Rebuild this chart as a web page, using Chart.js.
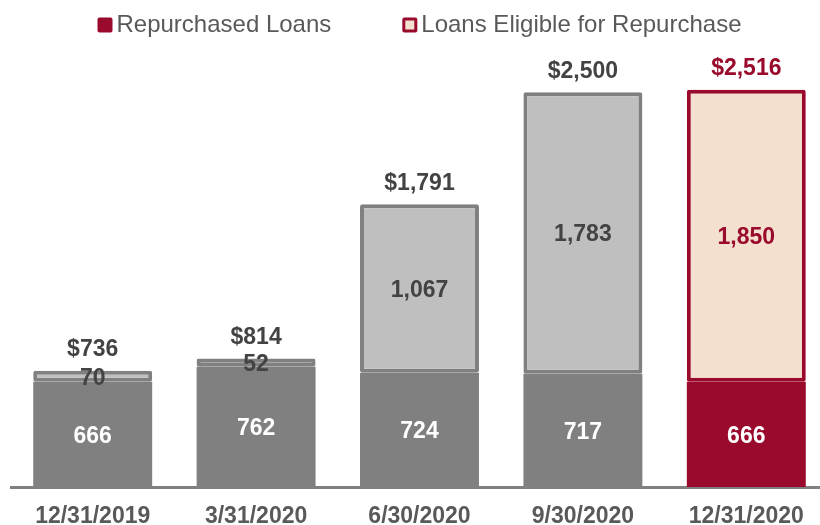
<!DOCTYPE html>
<html>
<head>
<meta charset="utf-8">
<script src="https://cdn.jsdelivr.net/npm/chart.js@4.4.1/dist/chart.umd.min.js"></script>
<style>
  html, body { margin: 0; padding: 0; overflow: hidden; background: #fff; }
  canvas { display: block; }
</style>
</head>
<body>
<canvas id="c" width="828" height="525"></canvas>
<script>
// Quarter-end dates and loan balances ($ millions)
const categories = ['12/31/2019', '3/31/2020', '6/30/2020', '9/30/2020', '12/31/2020'];
const repurchased = [666, 762, 724, 717, 666];
const eligible = [70, 52, 1067, 1783, 1850];
const seriesNames = ['Repurchased Loans', 'Loans Eligible for Repurchase'];

const GRAY = '#808080';
const LIGHT = '#BFBFBF';
const RED = '#9A0A2C';
const BEIGE = '#F3E0CF';
const TEXT = '#434343';
const TICK = '#595959';
const FONT = "'Liberation Sans', Arial, sans-serif";

const last = categories.length - 1;
const pick = (i, hi, lo) => (i === last ? hi : lo);

// Legend drawn across the top, centred over the plot
const topLegend = {
  id: 'topLegend',
  afterDraw(chart) {
    const ctx = chart.ctx;
    const area = chart.chartArea;
    const box = 15, gapText = 4, gapItem = 71;
    ctx.save();
    ctx.font = `24px ${FONT}`;
    const widths = seriesNames.map(n => ctx.measureText(n).width);
    const total = widths.reduce((s, w) => s + box + gapText + w, 0) + gapItem * (seriesNames.length - 1);
    let x = (area.left + area.right) / 2 - total / 2;
    const y = 25;
    seriesNames.forEach((name, i) => {
      ctx.beginPath();
      ctx.roundRect(x, y - box / 2, box, box, 2);
      ctx.fillStyle = RED;
      ctx.fill();
      if (i === 1) {
        ctx.fillStyle = BEIGE;
        ctx.fillRect(x + 3, y - box / 2 + 3, box - 6, box - 6);
      }
      ctx.fillStyle = TICK;
      ctx.textAlign = 'left';
      ctx.textBaseline = 'middle';
      ctx.fillText(name, x + box + gapText, y);
      x += box + gapText + widths[i] + gapItem;
    });
    ctx.restore();
  }
};

// Segment values inside the bars and totals above each stack
const valueLabels = {
  id: 'valueLabels',
  afterDatasetsDraw(chart) {
    const ctx = chart.ctx;
    const nudge = 2;
    ctx.save();
    ctx.font = `bold 23px ${FONT}`;
    ctx.textAlign = 'center';
    ctx.textBaseline = 'middle';
    chart.data.datasets.forEach((ds, d) => {
      chart.getDatasetMeta(d).data.forEach((bar, i) => {
        const { x, y, base } = bar.getProps(['x', 'y', 'base'], true);
        ctx.fillStyle = d === 0 ? '#ffffff' : pick(i, RED, TEXT);
        ctx.fillText(ds.data[i].toLocaleString('en-US'), x, (y + base) / 2 + nudge);
      });
    });
    chart.getDatasetMeta(1).data.forEach((bar, i) => {
      const { x, y } = bar.getProps(['x', 'y'], true);
      const sum = repurchased[i] + eligible[i];
      ctx.fillStyle = pick(i, RED, TEXT);
      ctx.fillText('$' + sum.toLocaleString('en-US'), x, y - 23 + nudge);
    });
    ctx.restore();
  }
};

new Chart(document.getElementById('c'), {
  type: 'bar',
  data: {
    labels: categories,
    datasets: [
      {
        label: seriesNames[0],
        data: repurchased,
        backgroundColor: categories.map((_, i) => pick(i, RED, GRAY)),
        borderWidth: 0,
        barPercentage: 0.728,
        categoryPercentage: 1
      },
      {
        label: seriesNames[1],
        data: eligible,
        backgroundColor: categories.map((_, i) => pick(i, BEIGE, LIGHT)),
        borderColor: categories.map((_, i) => pick(i, RED, GRAY)),
        borderWidth: 4,
        borderSkipped: false,
        borderRadius: 2,
        barPercentage: 0.728,
        categoryPercentage: 1
      }
    ]
  },
  options: {
    responsive: false,
    animation: false,
    devicePixelRatio: 1,
    layout: { padding: { top: 45, left: 11, right: 0, bottom: 0 } },
    plugins: {
      legend: { display: false },
      tooltip: { enabled: false }
    },
    scales: {
      x: {
        stacked: true,
        offset: true,
        z: 1,
        grid: { display: false, drawTicks: false },
        border: { display: true, color: GRAY, width: 3 },
        ticks: {
          color: TICK,
          font: { family: FONT, size: 23, weight: 'bold' },
          padding: 16,
          maxRotation: 0,
          autoSkip: false
        },
        afterFit(scale) { scale.height = 38; }
      },
      y: {
        stacked: true,
        display: false,
        min: 0,
        max: 2800
      }
    }
  },
  plugins: [topLegend, valueLabels]
});
</script>
</body>
</html>
